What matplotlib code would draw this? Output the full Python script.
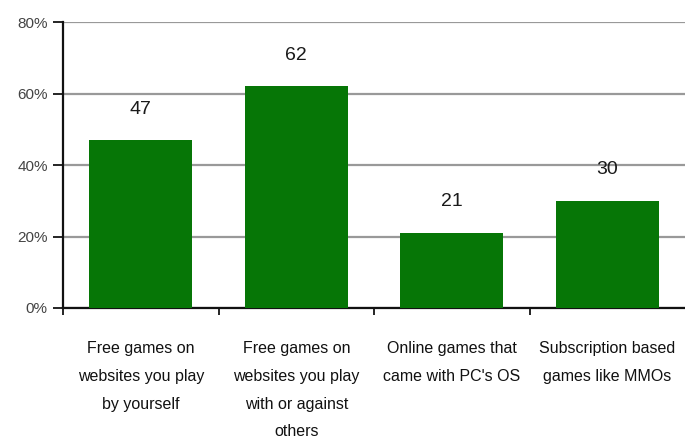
import matplotlib
matplotlib.use("Agg")
import matplotlib.pyplot as plt
from matplotlib.ticker import FixedLocator

categories = [
    "Free games on\nwebsites you play\nby yourself",
    "Free games on\nwebsites you play\nwith or against\nothers",
    "Online games that\ncame with PC's OS",
    "Subscription based\ngames like MMOs",
]
values = [47, 62, 21, 30]
y_ticks = [0, 20, 40, 60, 80]
y_tick_labels = ["0%", "20%", "40%", "60%", "80%"]

plt.rcParams["font.family"] = ["Liberation Sans", "DejaVu Sans"]

fig = plt.figure(figsize=(6.85, 4.41), dpi=100)
ax = fig.add_axes([0.092, 0.3016, 0.908, 0.6484])

x = list(range(len(values)))
ax.bar(x, values, width=0.66, color="#067606", zorder=3)

for xi, v in zip(x, values):
    ax.annotate(str(v), (xi, v), xytext=(0, 31), textcoords="offset pixels",
                ha="center", va="center", fontsize=14, color="#1a1a1a")

ax.set_xlim(-0.5, len(values) - 0.5)
ax.set_ylim(0, 80)

ax.set_yticks(y_ticks)
ax.set_yticklabels(y_tick_labels, fontsize=11, color="#444444")
ax.tick_params(axis="y", direction="out", length=7, width=1.2, pad=4)

ax.set_xticks(x)
ax.set_xticklabels(categories, fontsize=11.5, color="#111111", linespacing=2.05, va="top")
ax.tick_params(axis="x", which="major", length=0, pad=24)
ax.xaxis.set_minor_locator(FixedLocator([-0.5, 0.5, 1.5, 2.5]))
ax.tick_params(axis="x", which="minor", direction="out", length=5, width=1.2)

ax.yaxis.grid(True, color="#999999", linewidth=1.6, zorder=1)
ax.set_axisbelow(True)

for side in ("top", "right"):
    ax.spines[side].set_visible(False)
for side in ("left", "bottom"):
    ax.spines[side].set_linewidth(1.6)
    ax.spines[side].set_color("#111111")

fig.savefig("out.png", dpi=100)
